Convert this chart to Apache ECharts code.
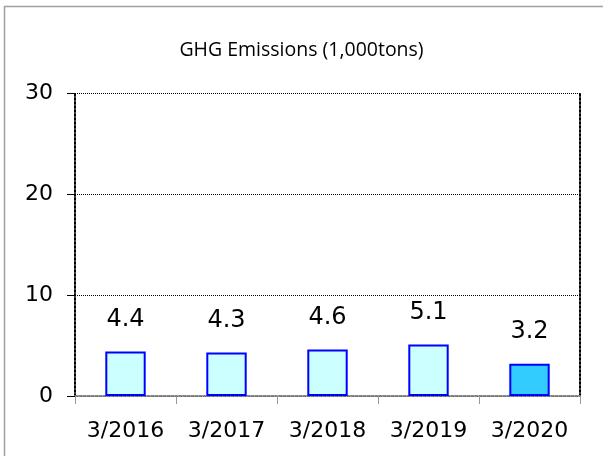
<!DOCTYPE html>
<html>
<head>
<meta charset="utf-8">
<script src="https://cdn.jsdelivr.net/npm/echarts@6/dist/echarts.min.js"></script>
<style>
  html, body { margin: 0; padding: 0; background: #fff; }
  #chart { width: 603px; height: 456px; }
</style>
</head>
<body>
<div id="chart"></div>
<script>
// data
const categories = ['3/2016', '3/2017', '3/2018', '3/2019', '3/2020'];
const emissions = [4.4, 4.3, 4.6, 5.1, 3.2];
const barColors = ['#CCFFFF', '#CCFFFF', '#CCFFFF', '#CCFFFF', '#33CCFF'];
const yTicks = [0, 10, 20, 30];

const chart = echarts.init(document.getElementById('chart'));

const option = {
  backgroundColor: '#fff',
  animation: false,
  title: {
    text: 'GHG Emissions (1,000tons)',
    left: 'center',
    top: 35,
    textStyle: { fontFamily: 'Open Sans', fontWeight: 'normal', fontSize: 19.5, color: '#000' }
  },
  // outer frame of the picture
  graphic: [{
    type: 'rect',
    shape: { x: 4.5, y: 6.5, width: 700, height: 600 },
    style: { fill: 'none', stroke: '#a0a0a0', lineWidth: 1.5 },
    silent: true
  }],
  grid: { left: 75, right: 23, top: 93, bottom: 60 },
  xAxis: {
    type: 'category',
    data: categories,
    axisLine: { lineStyle: { color: '#7f7f7f', width: 2, type: 'dotted' } },
    axisTick: { show: true, length: 8, lineStyle: { color: '#999' } },
    axisLabel: { fontFamily: 'DejaVu Sans', fontSize: 22, color: '#000', margin: 24 }
  },
  yAxis: [{
    type: 'value',
    min: yTicks[0],
    max: yTicks[yTicks.length - 1],
    interval: 10,
    axisLine: { show: true, lineStyle: { color: '#000', width: 2, type: 'dotted' } },
    axisTick: { show: true, length: 8, lineStyle: { color: '#000' } },
    axisLabel: { fontFamily: 'DejaVu Sans', fontSize: 22, color: '#000', margin: 22 },
    splitLine: { show: true, lineStyle: { color: '#000', width: 1, type: [1, 1] } }
  }, {
    // right edge of the plot is a dotted line too
    type: 'value',
    position: 'right',
    min: yTicks[0],
    max: yTicks[yTicks.length - 1],
    interval: 10,
    axisLine: { show: true, lineStyle: { color: '#000', width: 2, type: 'dotted' } },
    axisTick: { show: false },
    axisLabel: { show: false },
    splitLine: { show: false }
  }],
  series: [{
    type: 'bar',
    data: emissions.map((v, i) => ({ value: v, itemStyle: { color: barColors[i] } })),
    barWidth: '40%',
    itemStyle: { borderColor: '#0000FF', borderWidth: 2 },
    label: {
      show: true,
      position: 'top',
      distance: 20,
      fontFamily: 'DejaVu Sans',
      fontSize: 24,
      color: '#000'
    }
  }]
};

chart.setOption(option);
</script>
</body>
</html>
